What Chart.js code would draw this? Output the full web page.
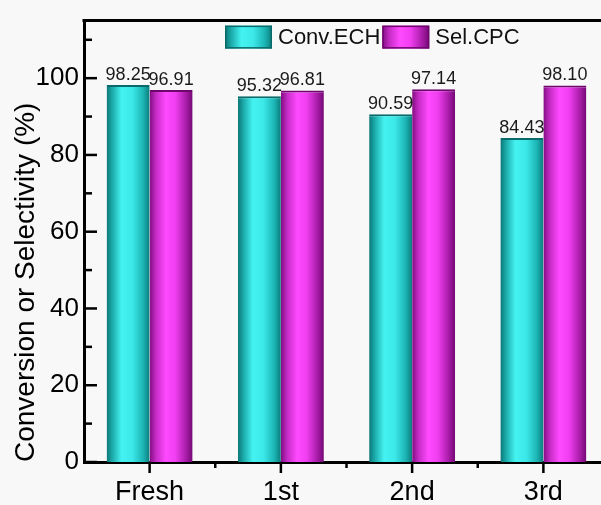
<!DOCTYPE html>
<html>
<head>
<meta charset="utf-8">
<script src="https://cdn.jsdelivr.net/npm/chart.js@4.4.0/dist/chart.umd.min.js"></script>
<style>
  html, body { margin: 0; padding: 0; background: #f8f8f8; overflow: hidden; }
  #wrap { position: relative; width: 620px; height: 505px; }
</style>
</head>
<body>
<div id="wrap"><canvas id="grafico"></canvas></div>
<script>
const ciclos = ['Fresh', '1st', '2nd', '3rd'];
const convECH = [98.25, 95.32, 90.59, 84.43];
const selCPC = [96.91, 96.81, 97.14, 98.10];
const yTicksMaiores = [0, 20, 40, 60, 80, 100];
const yTicksMenores = [10, 30, 50, 70, 90, 110];

const fonte = '"Liberation Sans", Arial, sans-serif';
const catPct = 0.655;

const degradeTeal = [[0, '#0d7676'], [0.12, '#1aa6a6'], [0.35, '#44f3f1'], [0.6, '#3ce8e8'], [0.85, '#1cb4b4'], [1, '#0b7c7c']];
const degradeMagenta = [[0, '#820c82'], [0.15, '#c52cc5'], [0.38, '#ff4aff'], [0.6, '#f03ef0'], [0.85, '#a81ca8'], [1, '#740874']];

function criarDegrade(ctx, x0, x1, paradas) {
  const g = ctx.createLinearGradient(x0, 0, x1, 0);
  paradas.forEach(p => g.addColorStop(p[0], p[1]));
  return g;
}

function preenchimentoBarra(paradas) {
  return function (c) {
    const chart = c.chart;
    const xs = chart.scales.x;
    if (!xs || !chart.chartArea || c.dataIndex === undefined) return paradas[2][1];
    const passo = xs.getPixelForValue(1) - xs.getPixelForValue(0);
    const larg = passo * catPct / 2;
    const esq = xs.getPixelForValue(c.dataIndex) - passo * catPct / 2 + c.datasetIndex * larg;
    return criarDegrade(chart.ctx, esq, esq + larg, paradas);
  };
}

const enfeites = {
  id: 'enfeites',
  afterDatasetsDraw(chart) {
    const ctx = chart.ctx;
    ctx.save();
    ctx.font = '18px ' + fonte;
    ctx.fillStyle = '#1a1a1a';
    ctx.textAlign = 'center';
    ctx.textBaseline = 'bottom';
    chart.data.datasets.forEach((ds, i) => {
      chart.getDatasetMeta(i).data.forEach((barra, j) => {
        ctx.fillText(ds.data[j].toFixed(2), barra.x, barra.y - 1);
      });
    });
    ctx.restore();
  },
  afterDraw(chart) {
    const ctx = chart.ctx;
    const area = chart.chartArea;
    const xs = chart.scales.x;
    const ys = chart.scales.y;
    ctx.save();
    ctx.strokeStyle = '#000';

    // moldura de cima e da direita
    ctx.lineWidth = 3;
    ctx.beginPath();
    ctx.moveTo(area.left - 1.5, area.top);
    ctx.lineTo(area.right, area.top);
    ctx.lineTo(area.right, area.bottom);
    ctx.stroke();

    // ticks do eixo y, para dentro
    ctx.lineWidth = 2.5;
    yTicksMaiores.forEach(v => {
      const y = ys.getPixelForValue(v);
      ctx.beginPath();
      ctx.moveTo(area.left, y);
      ctx.lineTo(area.left + 13, y);
      ctx.stroke();
    });
    yTicksMenores.forEach(v => {
      const y = ys.getPixelForValue(v);
      ctx.beginPath();
      ctx.moveTo(area.left, y);
      ctx.lineTo(area.left + 8, y);
      ctx.stroke();
    });

    // ticks do eixo x, para fora
    ciclos.forEach((c, i) => {
      const x = xs.getPixelForValue(i);
      ctx.beginPath();
      ctx.moveTo(x, area.bottom);
      ctx.lineTo(x, area.bottom + 11);
      ctx.stroke();
      if (i < ciclos.length - 1) {
        const xm = (x + xs.getPixelForValue(i + 1)) / 2;
        ctx.beginPath();
        ctx.moveTo(xm, area.bottom);
        ctx.lineTo(xm, area.bottom + 6);
        ctx.stroke();
      }
    });
    const ultimo = xs.getPixelForValue(ciclos.length - 1);
    const passo = ultimo - xs.getPixelForValue(ciclos.length - 2);
    ctx.beginPath();
    ctx.moveTo(ultimo + passo / 2, area.bottom);
    ctx.lineTo(ultimo + passo / 2, area.bottom + 6);
    ctx.stroke();

    // legenda dentro do grafico
    ctx.font = '22px ' + fonte;
    ctx.textBaseline = 'middle';
    ctx.textAlign = 'left';
    let x = area.left + 141;
    const y = area.top + 5;
    const caixaL = 47, caixaA = 23;
    chart.data.datasets.forEach((ds, i) => {
      const paradas = i === 0 ? degradeTeal : degradeMagenta;
      ctx.fillStyle = criarDegrade(ctx, x, x + caixaL, paradas);
      ctx.fillRect(x, y, caixaL, caixaA);
      ctx.lineWidth = 1.5;
      ctx.strokeStyle = ds.borderColor;
      ctx.strokeRect(x + 0.75, y + 0.75, caixaL - 1.5, caixaA - 1.5);
      ctx.fillStyle = '#111';
      ctx.fillText(ds.label, x + caixaL + 6, y + caixaA / 2 + 1);
      x += caixaL + 6 + ctx.measureText(ds.label).width + 2;
    });
    ctx.restore();
  }
};

function gerarGrafico() {
  const ctx = document.getElementById('grafico').getContext('2d');
  new Chart(ctx, {
    type: 'bar',
    data: {
      labels: ciclos,
      datasets: [
        {
          label: 'Conv.ECH',
          data: convECH,
          backgroundColor: preenchimentoBarra(degradeTeal),
          borderColor: '#0a6a6a',
          borderWidth: { top: 2, left: 0, right: 0, bottom: 0 },
          borderSkipped: 'bottom'
        },
        {
          label: 'Sel.CPC',
          data: selCPC,
          backgroundColor: preenchimentoBarra(degradeMagenta),
          borderColor: '#6e066e',
          borderWidth: { top: 2, left: 0, right: 0, bottom: 0 },
          borderSkipped: 'bottom'
        }
      ]
    },
    options: {
      responsive: true,
      maintainAspectRatio: false,
      animation: false,
      layout: { padding: { top: 15, right: 11, left: 0, bottom: 0 } },
      datasets: { bar: { categoryPercentage: catPct, barPercentage: 1 } },
      scales: {
        x: {
          grid: { display: false, drawTicks: false },
          border: { display: true, width: 3, color: '#000' },
          ticks: { color: '#000', font: { family: fonte, size: 27 }, padding: 14 },
          afterFit: s => { s.height = 43; }
        },
        y: {
          min: 0,
          max: 115,
          grid: { display: false, drawTicks: false },
          border: { display: true, width: 3, color: '#000' },
          ticks: { stepSize: 20, color: '#000', font: { family: fonte, size: 26 }, padding: 5 },
          afterBuildTicks: s => { s.ticks = yTicksMaiores.map(v => ({ value: v })); },
          title: {
            display: true,
            text: 'Conversion or Selectivity (%)',
            color: '#000',
            align: 'start',
            font: { family: fonte, size: 28 },
            padding: { top: 9, bottom: 0 }
          },
          afterFit: s => { s.width = 84; }
        }
      },
      plugins: {
        legend: { display: false },
        tooltip: { enabled: false }
      }
    },
    plugins: [enfeites]
  });
}

window.onload = gerarGrafico;
</script>
</body>
</html>
